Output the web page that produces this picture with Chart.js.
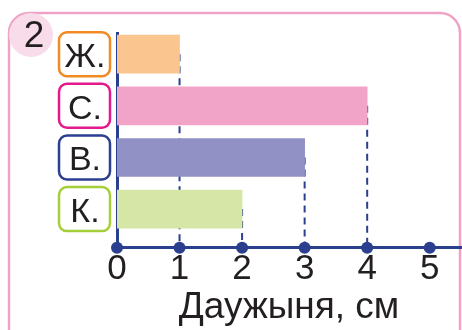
<!DOCTYPE html>
<html>
<head>
<meta charset="utf-8">
<script src="https://cdn.jsdelivr.net/npm/chart.js@4/dist/chart.umd.min.js"></script>
<style>
  html, body { margin:0; padding:0; background:#fff; }
  #wrap { width:462px; height:330px; }
</style>
</head>
<body>
<div id="wrap"><canvas id="chart" width="462" height="330"></canvas></div>
<script>
// Data
const labels     = ['Ж.', 'С.', 'В.', 'К.'];
const values     = [1, 4, 3, 2];
const barColors  = ['#fbc590', '#f1a3c8', '#9191c5', '#d6e6a6'];
const boxColors  = ['#f28a22', '#e4198b', '#2b3f90', '#a5cf39'];
const xTicks     = [0, 1, 2, 3, 4, 5];
const axisTitle  = 'Даужыня, см';
const taskNumber = '2';

const FONT = '"Liberation Sans", Arial, sans-serif';
const INK  = '#231f20';
const AXIS = '#2b3f8f';

// frame, number circle, label boxes, dashed guides and dots
const decor = {
  id: 'decor',
  beforeDraw(chart){
    const ctx = chart.ctx;
    ctx.save();
    // pink frame
    ctx.strokeStyle = '#f0a2c6';
    ctx.lineWidth = 2.5;
    ctx.beginPath();
    ctx.roundRect(9, 13, 451, 340, 20);
    ctx.stroke();
    // number circle
    ctx.fillStyle = '#f9dce9';
    ctx.beginPath();
    ctx.arc(31, 35, 22, 0, Math.PI*2);
    ctx.fill();
    ctx.fillStyle = INK;
    ctx.font = '37px ' + FONT;
    ctx.textAlign = 'center';
    ctx.textBaseline = 'alphabetic';
    ctx.fillText(taskNumber, 34, 47);
    ctx.restore();
  },
  beforeDatasetsDraw(chart){
    const ctx = chart.ctx, xs = chart.scales.x, ys = chart.scales.y;
    const bottom = chart.chartArea.bottom;
    ctx.save();
    ctx.strokeStyle = AXIS;
    ctx.lineWidth = 2;
    ctx.setLineDash([7, 5]);
    values.forEach((v, i) => {
      const x = xs.getPixelForValue(v);
      ctx.beginPath();
      ctx.moveTo(x, ys.getPixelForValue(i));
      ctx.lineTo(x, bottom);
      ctx.stroke();
    });
    ctx.restore();
  },
  afterDraw(chart){
    const ctx = chart.ctx, xs = chart.scales.x, ys = chart.scales.y;
    ctx.save();
    // category label boxes
    labels.forEach((l, i) => {
      const cy = ys.getPixelForValue(i);
      ctx.strokeStyle = boxColors[i];
      ctx.lineWidth = 2.5;
      ctx.fillStyle = '#fff';
      ctx.beginPath();
      ctx.roundRect(59, cy - 22, 51, 44, 8);
      ctx.fill();
      ctx.stroke();
      ctx.fillStyle = INK;
      ctx.font = '34px ' + FONT;
      ctx.textAlign = 'center';
      ctx.textBaseline = 'alphabetic';
      ctx.fillText(l, 85, cy + 13);
    });
    // dots on the axis
    const y0 = chart.chartArea.bottom;
    ctx.fillStyle = AXIS;
    xTicks.forEach(t => {
      ctx.beginPath();
      ctx.arc(xs.getPixelForValue(t), y0, 6, 0, Math.PI*2);
      ctx.fill();
    });
    ctx.restore();
  }
};

new Chart(document.getElementById('chart'), {
  type: 'bar',
  data: {
    datasets: [{
      data: values.map((v, i) => ({ x: v, y: i })),
      backgroundColor: barColors,
      borderWidth: 0,
      barThickness: 38
    }]
  },
  options: {
    indexAxis: 'y',
    responsive: false,
    animation: false,
    events: [],
    layout: { padding: { left: 117, top: 33, right: 1, bottom: 5 } },
    plugins: { legend: { display:false }, tooltip: { enabled:false } },
    scales: {
      x: {
        type: 'linear',
        min: 0, max: 5.5,
        afterBuildTicks: s => { s.ticks = xTicks.map(v => ({ value: v })); },
        ticks: { color: INK, font: { family: FONT, size: 35, lineHeight: 0.857 }, padding: 6, maxRotation: 0 },
        grid: { display:false, drawTicks:false },
        border: { color: AXIS, width: 3 },
        title: { display:true, text: axisTitle, color: INK, font: { family: FONT, size: 37, lineHeight: 0.95 }, padding: 0 }
      },
      y: {
        type: 'linear',
        reverse: true,
        offset: false,
        min: -0.41, max: 3.75,
        ticks: { display:false },
        grid: { display:false, drawTicks:false, offset:false },
        border: { color: AXIS, width: 3 }
      }
    }
  },
  plugins: [decor]
});
</script>
</body>
</html>
